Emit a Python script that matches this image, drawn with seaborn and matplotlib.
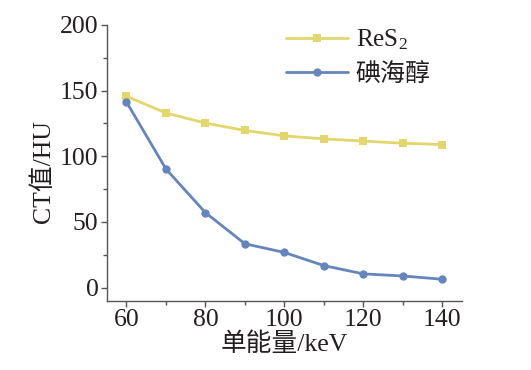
import numpy as np
import pandas as pd
import matplotlib
matplotlib.use('Agg')
import matplotlib.pyplot as plt
import seaborn as sns

# 数据
energy = [60, 70, 80, 90, 100, 110, 120, 130, 140]
res2_ct = [145.6, 132.9, 125.2, 119.6, 115.5, 113.2, 111.5, 109.9, 108.9]
iodixanol_ct = [141.3, 90.3, 57.1, 33.4, 26.8, 16.8, 10.5, 8.9, 6.4]
series_names = ['ReS$_\\mathregular{2}$', '碘海醇']
series_colors = ['#E2D66C', '#6585BE']

df = pd.DataFrame({
    'energy': energy * 2,
    'ct': res2_ct + iodixanol_ct,
    'name': [series_names[0]] * len(energy) + [series_names[1]] * len(energy),
})

sns.set_style('ticks')
plt.rcParams['font.family'] = ['Liberation Serif', 'Noto Sans CJK SC']
plt.rcParams['mathtext.fontset'] = 'stix'

fig = plt.figure(figsize=(5.31, 3.70), dpi=100)
ax = fig.add_axes([0.201, 0.187, 0.669, 0.746])

sns.lineplot(data=df, x='energy', y='ct', hue='name', style='name',
             palette=series_colors, markers=['s', 'o'], dashes=False,
             markersize=6, markeredgewidth=0, linewidth=2, ax=ax)

ax.set_xlim(55, 145)
ax.set_ylim(-10, 200)
ax.set_xticks([60, 80, 100, 120, 140])
ax.set_xticks([70, 90, 110, 130], minor=True)
ax.set_yticks([0, 50, 100, 150, 200])
ax.set_yticks([25, 75, 125, 175], minor=True)
ax.tick_params(axis='both', which='major', labelsize=18.5, length=4, width=1,
               color='#555555', labelcolor='#231f20', pad=2)
ax.tick_params(axis='both', which='minor', length=3, width=1, color='#555555')

for s in ['top', 'right']:
    ax.spines[s].set_visible(False)
for s in ['left', 'bottom']:
    ax.spines[s].set_color('#555555')
    ax.spines[s].set_linewidth(1)

ax.set_xlabel('单能量/keV', fontsize=18.5, color='#231f20', labelpad=1)
ax.set_ylabel('CT值/HU', fontsize=18.5, color='#231f20')
ax.yaxis.set_label_coords(-0.145, 0.47)

ax.legend(loc='upper left', bbox_to_anchor=(0.44, 1.072), frameon=False,
          fontsize=18, handlelength=2.5, handletextpad=0.3, labelspacing=0.45,
          labelcolor='#231f20')

plt.savefig('out.png', dpi=100)
plt.close()
